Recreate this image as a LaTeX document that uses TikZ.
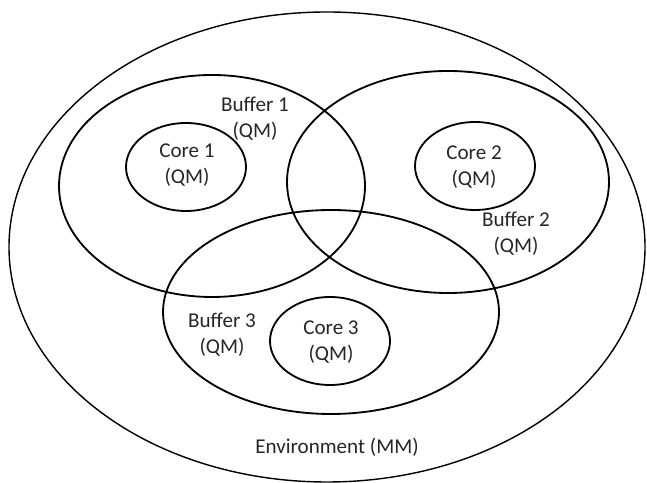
\documentclass[tikz,border=0pt]{standalone}
\usepackage{fontspec}
\setmainfont{Carlito}
\tikzset{lbl/.style={align=center,inner sep=0pt,font=\fontsize{15}{18.5}\selectfont,text=black!85}}
\begin{document}
\begin{tikzpicture}[line width=1.3pt]
			%	\draw[gray!20] (0,0)grid(16,12);
				\useasboundingbox (0,0) rectangle (16.175,12.075);
				\draw[line width=1pt] (8.175,5.9) ellipse (7.95 and 5.875);
				\draw (5.3,7.425) ellipse (3.825 and 2.775)
				(11.2,7.525) ellipse (4.025 and 2.775)
				(8.275,4.275) ellipse (4.2 and 2.55)
				(4.65,7.9) ellipse (1.5 and 1.1)
				(11.875,7.925) ellipse (1.5 and 1.1)
				(8.25,3.55) ellipse (1.5 and 1.1)
				;
				\path (6.375,9.1)node[lbl](buf1){Buffer 1\\(QM)}(4.675,7.95)node[lbl](core1){Core 1\\(QM)}(11.85,7.9)node[lbl](core2){Core 2\\(QM)}(12.9,6.225)node[lbl](buf2){Buffer 2\\(QM)}(5.55,3.7)node[lbl](buf3){Buffer 3\\(QM)}(8.275,3.525)node[lbl](core3){Core 3\\(QM)}(8.425,0.9)node[lbl](env){Environment (MM)};
		
			\end{tikzpicture}
\end{document}
